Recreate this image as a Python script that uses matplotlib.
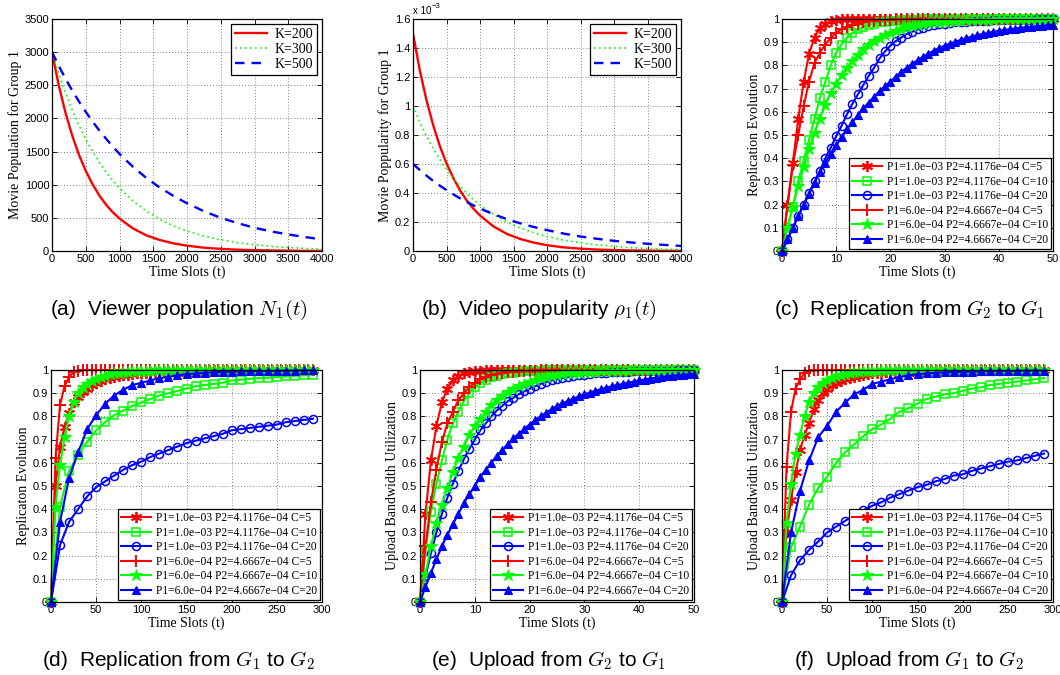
import matplotlib
matplotlib.use("Agg")
import matplotlib.pyplot as plt
from matplotlib.ticker import FuncFormatter

plt.rcParams["mathtext.fontset"] = "cm"

SERIF = "Liberation Serif"
SANS = "Liberation Sans"

# ---- (a) / (b): decay curves ----
t_decay = [0, 100, 200, 300, 400, 500, 600, 700, 800, 900, 1000, 1200, 1400, 1600, 1800,
           2000, 2250, 2500, 2750, 3000, 3250, 3500, 3750, 4000]
k_labels = ["K=200", "K=300", "K=500"]

pop_k200 = [3000, 2500, 2085, 1740, 1450, 1210, 1010, 840, 700, 585, 490, 340, 235, 165,
            115, 80, 50, 32, 20, 13, 8, 5, 3, 2]
pop_k300 = [3000, 2675, 2385, 2125, 1895, 1690, 1505, 1340, 1195, 1065, 950, 755, 600, 475,
            380, 300, 225, 170, 125, 95, 70, 53, 40, 30]
pop_k500 = [3000, 2795, 2600, 2420, 2255, 2100, 1955, 1820, 1695, 1575, 1465, 1270, 1100,
            955, 830, 720, 600, 500, 420, 350, 295, 250, 210, 175]

# popularity, in units of 1e-3
popu_k200 = [1.5, 1.25, 1.043, 0.87, 0.725, 0.605, 0.505, 0.42, 0.35, 0.293, 0.245, 0.17,
             0.118, 0.083, 0.058, 0.04, 0.025, 0.016, 0.01, 0.0065, 0.004, 0.0025, 0.0015, 0.001]
popu_k300 = [1.0, 0.892, 0.795, 0.708, 0.632, 0.563, 0.502, 0.447, 0.398, 0.355, 0.317,
             0.252, 0.2, 0.158, 0.127, 0.1, 0.075, 0.057, 0.042, 0.032, 0.023, 0.018, 0.013, 0.01]
popu_k500 = [0.6, 0.559, 0.52, 0.484, 0.451, 0.42, 0.391, 0.364, 0.339, 0.315, 0.293, 0.254,
             0.22, 0.191, 0.166, 0.144, 0.12, 0.1, 0.084, 0.07, 0.059, 0.05, 0.042, 0.035]

# ---- legend labels shared by (c)-(f) ----
series_labels = [
    "P1=1.0e\u221203 P2=4.1176e\u221204 C=5",
    "P1=1.0e\u221203 P2=4.1176e\u221204 C=10",
    "P1=1.0e\u221203 P2=4.1176e\u221204 C=20",
    "P1=6.0e\u221204 P2=4.6667e\u221204 C=5",
    "P1=6.0e\u221204 P2=4.6667e\u221204 C=10",
    "P1=6.0e\u221204 P2=4.6667e\u221204 C=20",
]

# ---- (c): replication G2 -> G1, t = 0..50 ----
t_short = list(range(51))
c_red_star = [0, 0.2, 0.38, 0.57, 0.73, 0.85, 0.92, 0.96, 0.98, 0.99, 0.995, 0.998] + [1.0] * 39
c_green_sq = [0, 0.1, 0.19, 0.3, 0.39, 0.48, 0.57, 0.66, 0.73, 0.80, 0.855, 0.89, 0.92, 0.94,
              0.955, 0.965, 0.973, 0.98, 0.985, 0.988, 0.99, 0.992, 0.994, 0.995, 0.996,
              0.997, 0.998, 0.998, 0.999, 0.999] + [1.0] * 21
c_blue_circ = [0, 0.05, 0.1, 0.15, 0.2, 0.25, 0.3, 0.345, 0.4, 0.445, 0.495, 0.54, 0.59, 0.635,
               0.675, 0.715, 0.755, 0.79, 0.83, 0.86, 0.885, 0.905, 0.92, 0.935, 0.945, 0.955,
               0.962, 0.968, 0.973, 0.977, 0.98, 0.983, 0.985, 0.987, 0.989, 0.99, 0.991,
               0.992, 0.993, 0.994, 0.995, 0.995, 0.996, 0.996, 0.997, 0.997, 0.997, 0.998,
               0.998, 0.998, 0.998]
c_red_plus = [0, 0.19, 0.37, 0.50, 0.625, 0.73, 0.81, 0.855, 0.89, 0.92, 0.94, 0.955, 0.965,
              0.975, 0.98, 0.985, 0.99, 0.992, 0.994, 0.996, 0.997, 0.998, 0.999] + [1.0] * 28
c_green_star = [0, 0.1, 0.19, 0.28, 0.36, 0.44, 0.51, 0.57, 0.63, 0.68, 0.72, 0.76, 0.79, 0.82,
                0.845, 0.87, 0.89, 0.905, 0.92, 0.93, 0.94, 0.95, 0.958, 0.965, 0.97, 0.975,
                0.979, 0.982, 0.985, 0.987, 0.989, 0.991, 0.992, 0.993, 0.994, 0.995, 0.996,
                0.996, 0.997, 0.997, 0.998, 0.998, 0.998, 0.999, 0.999, 0.999, 0.999,
                1.0, 1.0, 1.0, 1.0]
c_blue_tri = [0, 0.05, 0.1, 0.15, 0.2, 0.245, 0.295, 0.34, 0.38, 0.42, 0.455, 0.49, 0.525,
              0.555, 0.585, 0.615, 0.64, 0.665, 0.69, 0.71, 0.73, 0.752, 0.772, 0.79, 0.807,
              0.822, 0.837, 0.851, 0.863, 0.875, 0.885, 0.894, 0.902, 0.91, 0.917, 0.924,
              0.93, 0.935, 0.94, 0.945, 0.949, 0.953, 0.956, 0.959, 0.962, 0.965, 0.967,
              0.969, 0.971, 0.973, 0.975]

# ---- (e): upload G2 -> G1, t = 0..50 ----
e_red_star = [0, 0.38, 0.61, 0.76, 0.86, 0.92, 0.955, 0.975, 0.985, 0.99, 0.995, 0.997,
              0.998, 0.999] + [1.0] * 37
e_green_sq = [0, 0.22, 0.39, 0.51, 0.61, 0.70, 0.77, 0.82, 0.865, 0.9, 0.925, 0.945, 0.958,
              0.968, 0.976, 0.982, 0.986, 0.989, 0.992, 0.994, 0.995, 0.996, 0.997, 0.998,
              0.998, 0.999, 0.999] + [1.0] * 24
e_blue_circ = [0, 0.11, 0.21, 0.3, 0.38, 0.45, 0.51, 0.565, 0.615, 0.66, 0.70, 0.74, 0.77,
               0.8, 0.825, 0.845, 0.865, 0.88, 0.895, 0.908, 0.92, 0.93, 0.94, 0.948, 0.955,
               0.961, 0.966, 0.97, 0.974, 0.977, 0.98, 0.983, 0.985, 0.987, 0.989, 0.99,
               0.991, 0.992, 0.993, 0.994, 0.995, 0.995, 0.996, 0.996, 0.997, 0.997, 0.997,
               0.998, 0.998, 0.998, 0.998]
e_red_plus = [0, 0.24, 0.43, 0.57, 0.69, 0.77, 0.82, 0.87, 0.9, 0.925, 0.945, 0.96, 0.97,
              0.977, 0.983, 0.987, 0.99, 0.992, 0.994, 0.995, 0.996, 0.997, 0.998, 0.998,
              0.999, 0.999] + [1.0] * 25
e_green_star = [0, 0.12, 0.24, 0.34, 0.42, 0.49, 0.56, 0.62, 0.67, 0.72, 0.76, 0.79, 0.82,
                0.85, 0.87, 0.89, 0.905, 0.92, 0.93, 0.94, 0.95, 0.958, 0.965, 0.97, 0.975,
                0.979, 0.982, 0.985, 0.987, 0.989, 0.991, 0.992, 0.993, 0.994, 0.995, 0.996,
                0.996, 0.997, 0.997, 0.998, 0.998, 0.998, 0.999, 0.999, 0.999, 0.999, 0.999,
                1.0, 1.0, 1.0, 1.0]
e_blue_tri = [0, 0.065, 0.125, 0.185, 0.24, 0.29, 0.335, 0.38, 0.425, 0.465, 0.5, 0.54,
              0.57, 0.6, 0.63, 0.655, 0.68, 0.705, 0.725, 0.745, 0.765, 0.783, 0.80, 0.816,
              0.831, 0.845, 0.856, 0.867, 0.877, 0.886, 0.895, 0.903, 0.91, 0.917, 0.924,
              0.93, 0.935, 0.94, 0.945, 0.95, 0.955, 0.959, 0.963, 0.966, 0.969, 0.972,
              0.975, 0.977, 0.979, 0.981, 0.983]

# ---- (d) / (f): t = 0..290, two sampling steps ----
t_step5 = list(range(0, 291, 5))
t_step10 = list(range(0, 291, 10))

d_red_star = [0, 0.5, 0.67, 0.755, 0.815, 0.86, 0.885, 0.905, 0.92, 0.935, 0.945, 0.953,
              0.96, 0.965, 0.97, 0.975, 0.978, 0.98, 0.983, 0.985, 0.987, 0.988, 0.99,
              0.991, 0.992, 0.993, 0.994, 0.995, 0.995, 0.996, 0.996, 0.997, 0.997, 0.997,
              0.998, 0.998, 0.998, 0.998, 0.999, 0.999, 0.999] + [1.0] * 18
d_green_sq = [0, 0.41, 0.565, 0.635, 0.69, 0.74, 0.775, 0.805, 0.825, 0.845, 0.86, 0.875,
              0.89, 0.9, 0.91, 0.92, 0.93, 0.935, 0.94, 0.945, 0.955, 0.958, 0.962, 0.965,
              0.967, 0.97, 0.972, 0.975, 0.977, 0.98]
d_blue_circ = [0, 0.245, 0.345, 0.40, 0.455, 0.495, 0.52, 0.545, 0.57, 0.59, 0.605, 0.625,
               0.64, 0.655, 0.67, 0.685, 0.695, 0.705, 0.715, 0.725, 0.74, 0.745, 0.75,
               0.755, 0.76, 0.765, 0.775, 0.78, 0.785, 0.79]
d_red_plus = [0, 0.62, 0.85, 0.93, 0.97, 0.99, 0.997, 0.999] + [1.0] * 51
d_green_star = [0, 0.41, 0.59, 0.71, 0.80, 0.86, 0.9, 0.925, 0.94, 0.953, 0.963, 0.97,
                0.976, 0.981, 0.985, 0.988, 0.99, 0.992, 0.994, 0.995, 0.996, 0.997, 0.997,
                0.998, 0.998, 0.999, 0.999, 0.999] + [1.0] * 31
d_blue_tri = [0, 0.345, 0.535, 0.645, 0.745, 0.805, 0.855, 0.89, 0.915, 0.935, 0.945, 0.955,
              0.965, 0.97, 0.977, 0.982, 0.985, 0.988, 0.99, 0.992, 0.993, 0.994, 0.995,
              0.995, 0.996, 0.996, 0.997, 0.997, 0.998, 0.998]

f_red_star = [0, 0.3, 0.44, 0.56, 0.655, 0.72, 0.77, 0.83, 0.87, 0.9, 0.92, 0.935, 0.945,
              0.953, 0.96, 0.966, 0.971, 0.975, 0.979, 0.982, 0.985, 0.987, 0.989, 0.99,
              0.992, 0.993, 0.994, 0.995, 0.995, 0.996, 0.997, 0.997, 0.997, 0.998, 0.998,
              0.998, 0.999, 0.999, 0.999, 0.999] + [1.0] * 19
f_green_sq = [0, 0.235, 0.325, 0.42, 0.49, 0.54, 0.6, 0.645, 0.68, 0.715, 0.745, 0.765,
              0.79, 0.82, 0.835, 0.855, 0.875, 0.885, 0.895, 0.9, 0.91, 0.92, 0.925, 0.935,
              0.94, 0.945, 0.95, 0.955, 0.96, 0.965]
f_blue_circ = [0, 0.115, 0.18, 0.225, 0.26, 0.30, 0.325, 0.35, 0.375, 0.395, 0.415, 0.43,
               0.45, 0.465, 0.48, 0.495, 0.505, 0.52, 0.53, 0.545, 0.55, 0.565, 0.575,
               0.585, 0.595, 0.605, 0.61, 0.62, 0.63, 0.64]
f_red_plus = [0, 0.58, 0.82, 0.92, 0.96, 0.985, 0.995, 0.998, 0.999] + [1.0] * 50
f_green_star = [0, 0.34, 0.51, 0.64, 0.72, 0.80, 0.86, 0.9, 0.925, 0.945, 0.955, 0.965,
                0.972, 0.978, 0.983, 0.987, 0.99, 0.992, 0.994, 0.995, 0.996, 0.997, 0.998,
                0.998, 0.999, 0.999] + [1.0] * 33
f_blue_tri = [0, 0.30, 0.48, 0.61, 0.71, 0.76, 0.82, 0.86, 0.895, 0.915, 0.94, 0.95, 0.96,
              0.97, 0.977, 0.982, 0.985, 0.988, 0.99, 0.991, 0.992, 0.993, 0.994, 0.995,
              0.995, 0.996, 0.996, 0.997, 0.997, 0.997]

RED, GREEN, BLUE = (1, 0, 0), (0, 1, 0), (0, 0, 1)
ASTERISK = (6, 2, 0)
marker_styles = [
    dict(color=RED, marker=ASTERISK, ms=8, mew=1.3),
    dict(color=GREEN, marker="s", ms=5.2, mfc="none", mew=1.1),
    dict(color=BLUE, marker="o", ms=5.8, mfc="none", mew=1.1),
    dict(color=RED, marker="+", ms=9, mew=1.4),
    dict(color=GREEN, marker="*", ms=9, mew=0.8),
    dict(color=BLUE, marker="^", ms=6.2, mew=0.8),
]

fmt_g = FuncFormatter(lambda v, p: "%g" % round(v, 6))


def style_axes(ax, xlabel, ylabel):
    ax.grid(True, linestyle=(0, (1, 2.5)), color="0.35", linewidth=0.6)
    ax.tick_params(direction="in", top=True, right=True, length=3.5, width=0.6,
                   labelsize=8, pad=2)
    for lab in ax.get_xticklabels() + ax.get_yticklabels():
        lab.set_fontfamily(SANS)
    for sp in ax.spines.values():
        sp.set_linewidth(0.9)
    ax.set_xlabel(xlabel, fontfamily=SERIF, fontsize=10, labelpad=1)
    ax.set_ylabel(ylabel, fontfamily=SERIF, fontsize=10, labelpad=2)


def caption(fig, ax, text):
    pos = ax.get_position()
    cx = (pos.x0 + pos.x1) / 2 - 0.008
    cy = 0.541 if pos.y0 > 0.5 else 0.022
    fig.text(cx, cy, text, ha="center", va="center", fontfamily=SANS, fontsize=15)


def px_axes(fig, left, right, top, bottom):
    W, H = 1060, 675
    return fig.add_axes([left / W, 1 - bottom / H, (right - left) / W, (bottom - top) / H])


fig = plt.figure(figsize=(10.6, 6.75), dpi=100)

ax_a = px_axes(fig, 52, 322, 19, 251)
ax_b = px_axes(fig, 413, 681, 19, 251)
ax_c = px_axes(fig, 782, 1053, 19, 251)
ax_d = px_axes(fig, 51, 322, 370, 602)
ax_e = px_axes(fig, 420, 694, 370, 602)
ax_f = px_axes(fig, 782, 1053, 370, 602)

# (a)
ax_a.plot(t_decay, pop_k200, color=RED, lw=1.7, ls="-", label=k_labels[0])
ax_a.plot(t_decay, pop_k300, color=GREEN, lw=1.2, ls=(0, (1, 2)), label=k_labels[1])
ax_a.plot(t_decay, pop_k500, color=BLUE, lw=1.7, ls=(0, (4, 3)), label=k_labels[2])
ax_a.set_xlim(0, 4000)
ax_a.set_ylim(0, 3500)
ax_a.set_xticks(range(0, 4001, 500))
ax_a.set_yticks(range(0, 3501, 500))
style_axes(ax_a, "Time Slots (t)", "Movie Population for Group 1")

# (b)
ax_b.plot(t_decay, popu_k200, color=RED, lw=1.7, ls="-", label=k_labels[0])
ax_b.plot(t_decay, popu_k300, color=GREEN, lw=1.2, ls=(0, (1, 2)), label=k_labels[1])
ax_b.plot(t_decay, popu_k500, color=BLUE, lw=1.7, ls=(0, (4, 3)), label=k_labels[2])
ax_b.set_xlim(0, 4000)
ax_b.set_ylim(0, 1.6)
ax_b.set_xticks(range(0, 4001, 500))
ax_b.set_yticks([i * 0.2 for i in range(9)])
ax_b.yaxis.set_major_formatter(fmt_g)
style_axes(ax_b, "Time Slots (t)", "Movie Poppularity for Group 1")
ax_b.text(0.0, 1.012, "x 10", transform=ax_b.transAxes, fontfamily=SANS, fontsize=7,
          ha="left", va="bottom")
ax_b.text(0.068, 1.04, "\u22123", transform=ax_b.transAxes, fontfamily=SANS, fontsize=5.5,
          ha="left", va="bottom")

for ax in (ax_a, ax_b):
    leg = ax.legend(loc="upper right", prop={"family": SERIF, "size": 10}, fancybox=False,
                    framealpha=1, edgecolor="black", handlelength=2.3, labelspacing=0.15,
                    borderaxespad=0.35, borderpad=0.3, handletextpad=0.5)
    leg.get_frame().set_linewidth(0.9)

# (c)-(f)
panels = [
    (ax_c, [t_short] * 6, [c_red_star, c_green_sq, c_blue_circ, c_red_plus, c_green_star, c_blue_tri],
     50, "Replication Evolution"),
    (ax_d, [t_step5, t_step10, t_step10, t_step5, t_step5, t_step10],
     [d_red_star, d_green_sq, d_blue_circ, d_red_plus, d_green_star, d_blue_tri],
     300, "Replicaton Evolution"),
    (ax_e, [t_short] * 6, [e_red_star, e_green_sq, e_blue_circ, e_red_plus, e_green_star, e_blue_tri],
     50, "Upload Bandwidth Utilization"),
    (ax_f, [t_step5, t_step10, t_step10, t_step5, t_step5, t_step10],
     [f_red_star, f_green_sq, f_blue_circ, f_red_plus, f_green_star, f_blue_tri],
     300, "Upload Bandwidth Utilization"),
]

for ax, xs, ys, xmax, ylab in panels:
    for x, y, lab, st in zip(xs, ys, series_labels, marker_styles):
        ax.plot(x, y, lw=1.5, label=lab, clip_on=False, **st)
    ax.set_xlim(0, xmax)
    ax.set_ylim(0, 1)
    ax.set_xticks(range(0, xmax + 1, 10 if xmax == 50 else 50))
    ax.set_yticks([i / 10 for i in range(11)])
    ax.yaxis.set_major_formatter(fmt_g)
    style_axes(ax, "Time Slots (t)", ylab)
    leg = ax.legend(loc="lower right", prop={"family": SERIF, "size": 8.3}, fancybox=False,
                    framealpha=1, edgecolor="black", handlelength=2.6, labelspacing=0.22,
                    borderaxespad=0.15, borderpad=0.3, handletextpad=0.4)
    leg.get_frame().set_linewidth(0.9)

caption(fig, ax_a, r"(a)  Viewer population $N_1(t)$")
caption(fig, ax_b, r"(b)  Video popularity $\rho_1(t)$")
caption(fig, ax_c, r"(c)  Replication from $G_2$ to $G_1$")
caption(fig, ax_d, r"(d)  Replication from $G_1$ to $G_2$")
caption(fig, ax_e, r"(e)  Upload from $G_2$ to $G_1$")
caption(fig, ax_f, r"(f)  Upload from $G_1$ to $G_2$")

fig.savefig("out.png", dpi=100)
